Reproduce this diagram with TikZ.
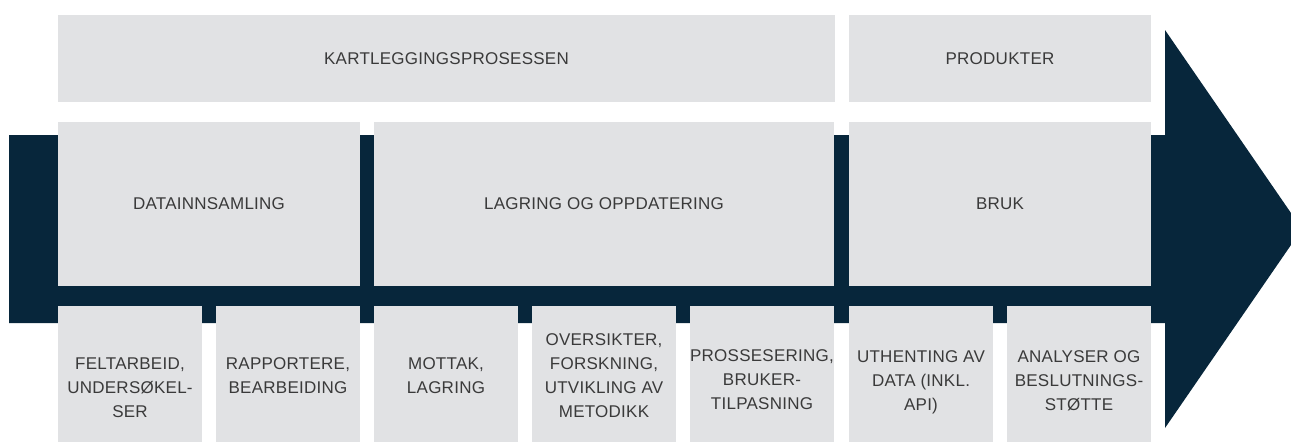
\documentclass[tikz,border=0pt]{standalone}
\usepackage{fontspec}
\setmainfont{Liberation Sans}[LetterSpace=1.5]
\definecolor{boxgray}{HTML}{E1E2E4}
\definecolor{navy}{HTML}{07263B}
\definecolor{txtgray}{HTML}{3A3A3A}
\tikzset{
  lbl/.style={text=txtgray, font=\fontsize{17}{24}\selectfont, align=center, inner sep=0pt, text depth=0pt},
  gbox/.style={fill=boxgray, draw=none, inner sep=0pt, lbl},
}
\begin{document}
\begin{tikzpicture}[x=1pt,y=-1pt]
\useasboundingbox (0,0) rectangle (1291,442);
\clip (0,0) rectangle (1291,442);
% arrow
\fill[navy] (9,135) -- (1165,135) -- (1165,30) -- (1302,229) -- (1165,428) -- (1165,323) -- (9,323) -- cycle;
% top row
\node[gbox, minimum width=777, minimum height=87] (kp) at (446.5,58.5) {KARTLEGGINGSPROSESSEN};
\node[gbox, minimum width=302, minimum height=87] (pr) at (1000,58.5) {PRODUKTER};
% middle row
\node[gbox, minimum width=302, minimum height=164] (di) at (209,204) {DATAINNSAMLING};
\node[gbox, minimum width=460, minimum height=164] (lo) at (604,204) {LAGRING OG OPPDATERING};
\node[gbox, minimum width=302, minimum height=164] (br) at (1000,204) {BRUK};
% bottom row boxes
\foreach \n/\cx in {b1/130,b2/288,b3/446,b4/604,b5/762,b6/921,b7/1079}{
  \node[gbox, minimum width=144, minimum height=136] (\n) at (\cx,374) {};
}
% bottom row texts
\node[lbl] (t1) at ([yshift=-14]b1.center) {FELTARBEID,\\UNDERSØKEL-\\SER};
\node[lbl] (t2) at ([yshift=-2]b2.center) {RAPPORTERE,\\BEARBEIDING};
\node[lbl] (t3) at ([yshift=-2]b3.center) {MOTTAK,\\LAGRING};
\node[lbl] (t4) at ([yshift=-2]b4.center) {OVERSIKTER,\\FORSKNING,\\UTVIKLING AV\\METODIKK};
\node[lbl] (t5) at ([yshift=-6]b5.center) {PROSSESERING,\\BRUKER-\\TILPASNING};
\node[lbl] (t6) at ([yshift=-7]b6.center) {UTHENTING AV\\DATA (INKL.\\API)};
\node[lbl] (t7) at ([yshift=-7]b7.center) {ANALYSER OG\\BESLUTNINGS-\\STØTTE};
\end{tikzpicture}
\end{document}
